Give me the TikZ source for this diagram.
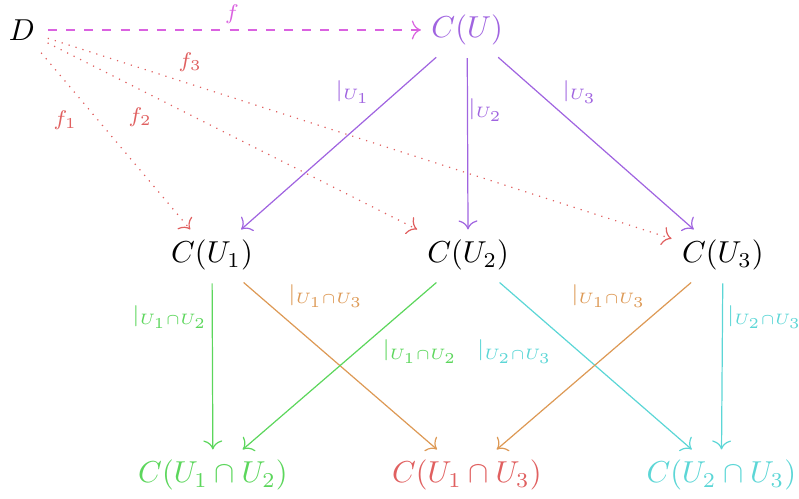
\documentclass[tikz,border=0pt]{standalone}
\usepackage{color}
\usepackage{tikz}
\usepackage{amsfonts}
\usepackage{amssymb}
\usepackage{amsmath}
\usetikzlibrary{arrows.meta}

\definecolor{mapf}{HTML}{DA62E0}
\definecolor{restr}{HTML}{A064E0}
\definecolor{mapfi}{HTML}{E06060}
\definecolor{restra}{HTML}{5CD65C}
\definecolor{restrb}{HTML}{DD9955}
\definecolor{restrc}{HTML}{5CD6D6}

\tikzset{
  obj/.style={inner sep=3.3pt},
  lab/.style={inner sep=0pt,font=\scriptsize},
  map/.style={-{To[scale=1.2]},shorten <=0.8pt},
}

\begin{document}
\begin{tikzpicture}[x=1.064pt,y=1.064pt]
\useasboundingbox (0,0) rectangle (248,-154.6);
% objects at depth 50:
\node[obj] (D) at (6.8,-9.3) {$D$};
\node[obj,text=restr] (CU) at (145,-9.3) {$C(U)$};
\node[obj] (CU1) at (65.8,-79.2) {$C(U_1)$};
\node[obj] (CU2) at (145.3,-79.2) {$C(U_2)$};
\node[obj] (CU3) at (224.4,-79.2) {$C(U_3)$};
\node[obj,text=restra] (CU12) at (66.1,-147.5) {$C(U_1\cap U_2)$};
\node[obj,text=mapfi] (CU13) at (144.9,-147.5) {$C(U_1\cap U_3)$};
\node[obj,text=restrc] (CU23) at (223.9,-147.5) {$C(U_2\cap U_3)$};
% arrows at depth 40:
\path[map,draw=mapf,dashed] (D) -- (CU);
\path[map,draw=mapfi,dotted] (D) -- (CU1);
\path[map,draw=mapfi,dotted] (D) -- (CU2);
\path[map,draw=mapfi,dotted] (D) -- (CU3);
\path[map,draw=restr] (CU) -- (CU1);
\path[map,draw=restr] (CU) -- (CU2);
\path[map,draw=restr] (CU) -- (CU3);
\path[map,draw=restra] (CU1) -- (CU12);
\path[map,draw=restrb] (CU1) -- (CU13);
\path[map,draw=restra] (CU2) -- (CU12);
\path[map,draw=restrc] (CU2) -- (CU23);
\path[map,draw=restrb] (CU3) -- (CU13);
\path[map,draw=restrc] (CU3) -- (CU23);
% labels at depth 30:
\node[lab,text=mapf] (lf) at (72,-4.3) {$f$};
\node[lab,text=mapfi] (lf1) at (20.2,-37.2) {$f_1$};
\node[lab,text=mapfi] (lf2) at (43.5,-36.3) {$f_2$};
\node[lab,text=mapfi] (lf3) at (59,-19.2) {$f_3$};
\node[lab,text=restr] (lU1) at (109.6,-28.6) {$|_{U_1}$};
\node[lab,text=restr] (lU2) at (150.8,-34.1) {$|_{U_2}$};
\node[lab,text=restr] (lU3) at (180,-28.6) {$|_{U_3}$};
\node[lab,text=restra] (lU12a) at (52.8,-98.4) {$|_{U_1\cap U_2}$};
\node[lab,text=restrb] (lU13a) at (101.2,-91.9) {$|_{U_1\cap U_3}$};
\node[lab,text=restra] (lU12b) at (130.4,-109.2) {$|_{U_1\cap U_2}$};
\node[lab,text=restrc] (lU23a) at (159.8,-109.2) {$|_{U_2\cap U_3}$};
\node[lab,text=restrb] (lU13b) at (189,-91.9) {$|_{U_1\cap U_3}$};
\node[lab,text=restrc] (lU23b) at (237.4,-98.4) {$|_{U_2\cap U_3}$};
\end{tikzpicture}
\end{document}
